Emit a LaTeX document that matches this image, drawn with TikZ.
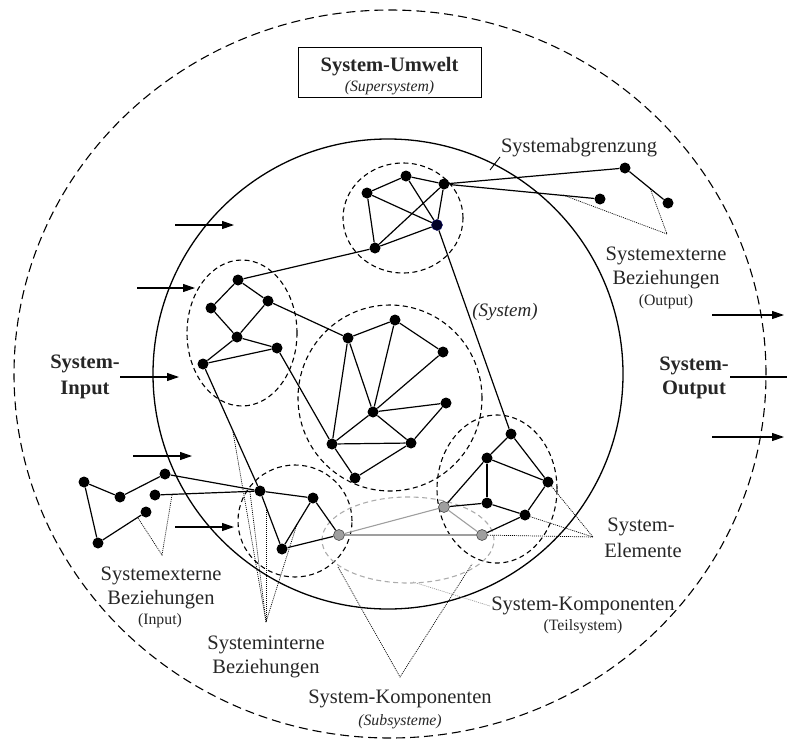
\documentclass[tikz,border=0pt]{standalone}
\usepackage{fontspec}
\setmainfont{Liberation Serif}
\usetikzlibrary{arrows.meta}
\begin{document}
\begin{tikzpicture}[x=1pt,y=-1pt,
  dot/.style={circle,fill=black,inner sep=0pt,minimum size=11pt},
  bdot/.style={circle,fill=black!85!blue,draw=blue!40!black,line width=0.4pt,inner sep=0pt,minimum size=11pt},
  gdot/.style={circle,fill=gray!75,draw=black!70,line width=0.6pt,inner sep=0pt,minimum size=11pt},
  edge/.style={line width=1.2pt},
  gedge/.style={line width=1.1pt,draw=gray!75},
  grp/.style={line width=1.1pt,dash pattern=on 5pt off 3.5pt},
  ggrp/.style={line width=1.1pt,draw=gray!65,dash pattern=on 5pt off 3.5pt},
  ptr/.style={line width=0.7pt,dash pattern=on 1pt off 1pt},
  gptr/.style={line width=0.7pt,draw=gray!80,dash pattern=on 1pt off 1pt},
  flow/.style={line width=1.1pt,-{Triangle[length=12pt,width=8pt]}},
  lbl/.style={font=\fontsize{20.5}{22}\selectfont,inner sep=0pt,text=black!85},
  blbl/.style={font=\fontsize{20.5}{22}\selectfont\bfseries,inner sep=0pt,text=black!85},
  sml/.style={font=\fontsize{15.8}{17}\selectfont,inner sep=0pt,text=black!85},
  ism/.style={font=\fontsize{15.8}{17}\selectfont\itshape,inner sep=0pt,text=black!85},
  ilbl/.style={font=\fontsize{19}{21}\selectfont\itshape,inner sep=0pt,text=black!85}
]
\useasboundingbox (0,0) rectangle (787,742);

% environment and system boundaries
\draw[line width=1.1pt,dash pattern=on 9pt off 5pt] (390,374) ellipse [x radius=376pt, y radius=364pt];
\draw[line width=1.3pt] (388,374) circle [radius=235pt];

% box
\node[draw,line width=1pt,minimum width=183pt,minimum height=50pt] (box) at (389.5,72) {};
\node[blbl] (umw) at (389.5,67) {System-Umwelt};
\node[ism] (sup) at (389.5,88) {(Supersystem)};

% component groups
\draw[grp] (403,218) ellipse [x radius=60pt, y radius=55pt];
\draw[grp] (242,333) ellipse [x radius=55pt, y radius=73pt];
\draw[grp] (390,398) ellipse [x radius=92pt, y radius=93pt];
\draw[grp] (295,521) ellipse [x radius=57pt, y radius=56pt];
\draw[grp] (497,489) ellipse [x radius=60pt, y radius=74pt];
\draw[ggrp] (408,540) ellipse [x radius=86pt, y radius=43pt];

% nodes
\node[dot] (A1) at (367,193) {};
\node[dot] (A2) at (406,176) {};
\node[dot] (A3) at (444,184) {};
\node[dot] (A5) at (375,248) {};
\node[dot] (E1) at (625,168) {};
\node[dot] (E2) at (600,199) {};
\node[dot] (E3) at (668,203) {};
\node[dot] (B1) at (238,280) {};
\node[dot] (B2) at (211,308) {};
\node[dot] (B3) at (268,301) {};
\node[dot] (B4) at (237,337) {};
\node[dot] (B5) at (277,348) {};
\node[dot] (B6) at (203,364) {};
\node[dot] (C1) at (348,338) {};
\node[dot] (C2) at (395,320) {};
\node[dot] (C3) at (443,352) {};
\node[dot] (C4) at (373,412) {};
\node[dot] (C5) at (332,444) {};
\node[dot] (C6) at (411,443) {};
\node[dot] (C7) at (355,478) {};
\node[dot] (C8) at (446,403) {};
\node[dot] (D1) at (511,434) {};
\node[dot] (D2) at (487,458) {};
\node[dot] (D3) at (548,482) {};
\node[dot] (D4) at (487,503) {};
\node[dot] (D5) at (525,515) {};
\node[dot] (H1) at (84,482) {};
\node[dot] (H2) at (120,497) {};
\node[dot] (H3) at (165,474) {};
\node[dot] (H4) at (155,495) {};
\node[dot] (H5) at (146,512) {};
\node[dot] (H6) at (98,543) {};
\node[dot] (F3) at (260,491) {};
\node[dot] (F4) at (313,498) {};
\node[dot] (F5) at (282,549) {};

% coordinates for pointers
\coordinate (pOut) at (667,234);
\coordinate (pOa) at (563,195);
\coordinate (pOb) at (650,188);
\coordinate (pIn) at (162,555);
\coordinate (pIa) at (138,518);
\coordinate (pIb) at (172,495);
\coordinate (pInt) at (266,622);
\coordinate (pIta) at (233,432);
\coordinate (pItb) at (250,492);
\coordinate (pItc) at (266,510);
\coordinate (pItd) at (297,524);
\coordinate (pSub) at (400,677);
\coordinate (pSa) at (338,567);
\coordinate (pSb) at (472,564);
\coordinate (pTa) at (413,582);
\coordinate (pTb) at (490,606);
\coordinate (pEl) at (593,537);
\coordinate (abA) at (490,170);
\coordinate (abB) at (500,157);

% pointers (dotted)
\draw[ptr] (pOa) -- (pOut) -- (pOb);
\draw[ptr] (pIa) -- (pIn) -- (pIb);
\draw[ptr] (pIta) -- (pInt);
\draw[ptr] (pItb) -- (pInt);
\draw[ptr] (pItc) -- (pInt);
\draw[ptr] (pItd) -- (pInt);
\draw[ptr] (pSa) -- (pSub) -- (pSb);
\draw[gptr] (pTa) -- (pTb);
\draw[ptr] (D3) -- (pEl);
\draw[ptr] (D5) -- (pEl);
\draw[line width=0.9pt] (abA) -- (abB);

% gray subsystem nodes and lines
\node[gdot] (G1) at (339,535) {};
\node[gdot] (G2) at (444,507) {};
\node[gdot] (G3) at (482,535) {};
\draw[ptr] (G3) -- (pEl);
\draw[gedge] (G1) -- (G3);
\draw[gedge] (G1) -- (G2);
\draw[gedge] (G2) -- (G3);

% top group edges
\node[bdot] (A4) at (437,225) {};
\draw[edge] (A1) -- (A2) -- (A3);
\draw[edge] (A1) -- (A5);
\draw[edge] (A1) -- (A4);
\draw[edge] (A2) -- (A4);
\draw[edge] (A3) -- (A5);
\draw[edge] (A3) -- (A4);
\draw[edge] (A5) -- (A4);
\draw[edge] (A5) -- (B1);
\draw[edge] (A3) -- (E1);
\draw[edge] (A3) -- (E2);
\draw[edge] (E1) -- (E3);
\draw[edge] (A4) -- (D1);

% left group
\draw[edge] (B1) -- (B2);
\draw[edge] (B1) -- (B3);
\draw[edge] (B2) -- (B4);
\draw[edge] (B3) -- (B4);
\draw[edge] (B4) -- (B6);
\draw[edge] (B4) -- (B5);
\draw[edge] (B6) -- (B5);
\draw[edge] (B3) -- (C1);
\draw[edge] (B5) -- (C5);
\draw[edge] (B6) -- (F3);

% middle group
\draw[edge] (C1) -- (C2);
\draw[edge] (C1) -- (C4);
\draw[edge] (C1) -- (C5);
\draw[edge] (C2) -- (C4);
\draw[edge] (C2) -- (C3);
\draw[edge] (C3) -- (C4);
\draw[edge] (C4) -- (C8);
\draw[edge] (C8) -- (C6);
\draw[edge] (C4) -- (C5);
\draw[edge] (C4) -- (C6);
\draw[edge] (C5) -- (C6);
\draw[edge] (C5) -- (C7);
\draw[edge] (C7) -- (C6);

% right-bottom group
\draw[edge] (D1) -- (D2);
\draw[edge] (D1) -- (D3);
\draw[edge] (D2) -- (D3);
\draw[line width=2pt] (D2) -- (D4);
\draw[edge] (D2) -- (G2);
\draw[edge] (D4) -- (G2);
\draw[edge] (D4) -- (D5);
\draw[edge] (D3) -- (D5);
\draw[edge] (D5) -- (G3);

% left-bottom
\draw[edge] (H1) -- (H2) -- (H3);
\draw[edge] (H1) -- (H6) -- (H5);
\draw[edge] (H3) -- (F3);
\draw[edge] (H4) -- (F3);
\draw[edge] (F3) -- (F4);
\draw[edge] (F3) -- (F5);
\draw[edge] (F5) -- (F4);
\draw[edge] (F4) -- (G1);
\draw[edge] (F5) -- (G1);

% input arrows
\coordinate (ia1) at (175,225); \coordinate (ib1) at (234,225);
\coordinate (ia2) at (137,288); \coordinate (ib2) at (195,288);
\coordinate (ia3) at (120,377); \coordinate (ib3) at (179,377);
\coordinate (ia4) at (133,456); \coordinate (ib4) at (192,456);
\coordinate (ia5) at (175,527); \coordinate (ib5) at (234,527);
\draw[flow] (ia1) -- (ib1);
\draw[flow] (ia2) -- (ib2);
\draw[flow] (ia3) -- (ib3);
\draw[flow] (ia4) -- (ib4);
\draw[flow] (ia5) -- (ib5);

% output arrows
\coordinate (oa1) at (712,315); \coordinate (ob1) at (784,315);
\coordinate (oa2) at (730,377); \coordinate (ob2) at (787,377);
\coordinate (oa3) at (712,437); \coordinate (ob3) at (784,437);
\draw[flow] (oa1) -- (ob1);
\draw[line width=1.1pt] (oa2) -- (ob2);
\draw[flow] (oa3) -- (ob3);

% labels
\node[lbl] (labg) at (579,148) {Systemabgrenzung};
\node[lbl] (lout1) at (666,256) {Systemexterne};
\node[lbl] (lout2) at (666,280) {Beziehungen};
\node[sml] (lout3) at (666,302) {(Output)};
\node[ilbl] (lsys) at (505,312) {(System)};
\node[blbl] (lsi1) at (85,364) {System-};
\node[blbl] (lsi2) at (85,390) {Input};
\node[blbl] (lso1) at (694,366) {System-};
\node[blbl] (lso2) at (694,390) {Output};
\node[lbl] (lel1) at (641,527) {System-};
\node[lbl] (lel2) at (643,550) {Elemente};
\node[lbl] (lin1) at (161,576) {Systemexterne};
\node[lbl] (lin2) at (161,600) {Beziehungen};
\node[sml] (lin3) at (160,621) {(Input)};
\node[lbl] (lint1) at (266,645) {Systeminterne};
\node[lbl] (lint2) at (266,669) {Beziehungen};
\node[lbl] (ltei1) at (583,606) {System-Komponenten};
\node[sml] (ltei2) at (583,627) {(Teilsystem)};
\node[lbl] (lsub1) at (400,699) {System-Komponenten};
\node[ism] (lsub2) at (400,722) {(Subsysteme)};
\end{tikzpicture}
\end{document}
